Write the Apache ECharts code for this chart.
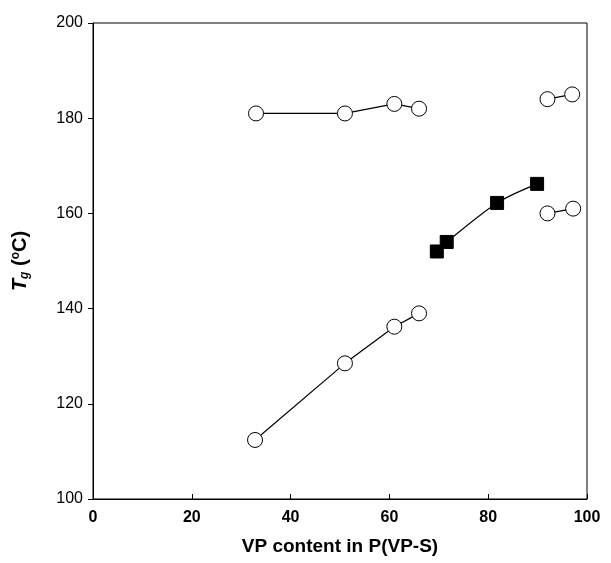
<!DOCTYPE html>
<html>
<head>
<meta charset="utf-8">
<script src="https://cdn.jsdelivr.net/npm/echarts@6/dist/echarts.min.js"></script>
<style>html,body{margin:0;padding:0;background:#fff}#c{width:611px;height:563px}</style>
</head>
<body>
<div id="c"></div>
<script>
// Data
var upperLeftX = [33, 51, 61, 66];
var upperLeftY = [181, 181, 183, 182];
var upperRightX = [92, 97];
var upperRightY = [184, 185];
var lowerLeftX = [32.8, 51, 61, 66];
var lowerLeftY = [112.4, 128.5, 136.2, 139];
var squareX = [69.6, 71.6, 81.8, 89.9];
var squareY = [152, 154, 162.2, 166.2];
var lowerRightX = [92, 97.2];
var lowerRightY = [160, 161];
var xTicks = [0, 20, 40, 60, 80, 100];
var yTicks = [100, 120, 140, 160, 180, 200];

function pairs(xs, ys) { return xs.map(function (x, i) { return [x, ys[i]]; }); }

function circleSeries(xs, ys) {
  return {
    type: 'line', data: pairs(xs, ys), symbol: 'circle', symbolSize: 15,
    lineStyle: { color: '#000', width: 1.2 },
    itemStyle: { color: '#fff', borderColor: '#000', borderWidth: 1 },
    z: 3
  };
}

var chart = echarts.init(document.getElementById('c'), null, { renderer: 'canvas' });
chart.setOption({
  animation: false,
  backgroundColor: '#fff',
  grid: { left: 93, right: 24, top: 23, bottom: 64, show: true, borderColor: '#000', borderWidth: 1, backgroundColor: 'transparent' },
  xAxis: {
    type: 'value', min: xTicks[0], max: xTicks[xTicks.length - 1], interval: 20,
    name: 'VP content in P(VP-S)', nameLocation: 'middle', nameGap: 38,
    nameTextStyle: { fontFamily: 'Liberation Sans', fontWeight: 'bold', fontSize: 19, color: '#000' },
    axisLine: { lineStyle: { color: '#000', width: 1 } },
    axisTick: { inside: true, length: 5, lineStyle: { color: '#000' } },
    axisLabel: { margin: 11, fontFamily: 'Liberation Sans', fontWeight: 'bold', fontSize: 16, color: '#000' },
    splitLine: { show: false }
  },
  yAxis: {
    type: 'value', min: yTicks[0], max: yTicks[yTicks.length - 1], interval: 20,
    name: '{t|T}{g|g}{n| (}{s|o}{n|C)}', nameLocation: 'middle', nameGap: 62, nameRotate: 90,
    nameTextStyle: {
      color: '#000',
      rich: {
        t: { fontFamily: 'Liberation Sans', fontWeight: 'bold', fontStyle: 'italic', fontSize: 20, color: '#000' },
        g: { fontFamily: 'Liberation Sans', fontWeight: 'bold', fontStyle: 'italic', fontSize: 12, color: '#000', padding: [9, 0, 0, 0] },
        n: { fontFamily: 'Liberation Sans', fontWeight: 'bold', fontSize: 20, color: '#000' },
        s: { fontFamily: 'Liberation Sans', fontWeight: 'bold', fontSize: 12, color: '#000', padding: [0, 0, 9, 0] }
      }
    },
    axisLine: { show: true, lineStyle: { color: '#000', width: 1 } },
    axisTick: { show: true, inside: false, length: 5, lineStyle: { color: '#000' } },
    axisLabel: { margin: 10, fontFamily: 'Liberation Sans', fontSize: 16, color: '#000' },
    splitLine: { show: false }
  },
  series: [
    circleSeries(upperLeftX, upperLeftY),
    circleSeries(upperRightX, upperRightY),
    circleSeries(lowerLeftX, lowerLeftY),
    circleSeries(lowerRightX, lowerRightY),
    {
      type: 'line', data: pairs(squareX, squareY), smooth: 0.3, symbol: 'rect', symbolSize: 13,
      lineStyle: { color: '#000', width: 1.2 },
      itemStyle: { color: '#000', borderColor: '#000' },
      z: 3
    }
  ]
});
</script>
</body>
</html>
